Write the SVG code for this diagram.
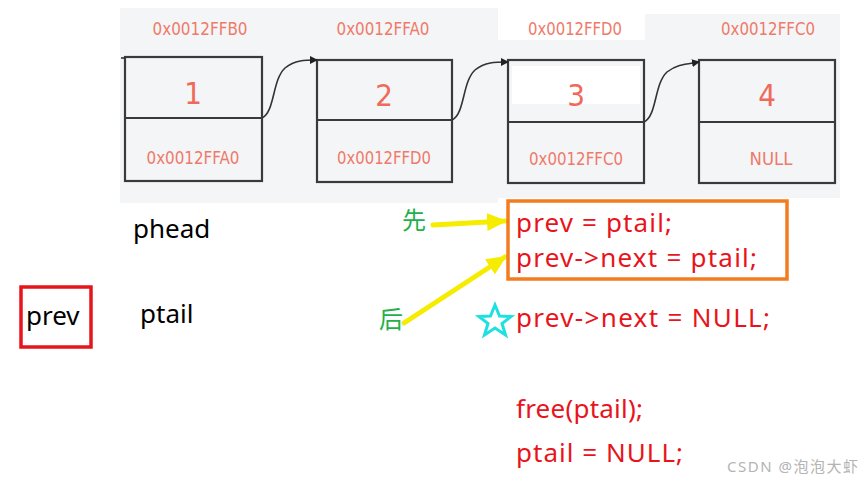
<svg xmlns="http://www.w3.org/2000/svg" width="861" height="482" viewBox="0 0 861 482">
<style>
.bg{fill:#f3f5f7}
.box{fill:#f3f5f7;stroke:#3a3a3a;stroke-width:2.2}
.addr{font-family:"DejaVu Sans Condensed","DejaVu Sans",sans-serif;font-size:17px;fill:#ef7a6a;text-anchor:middle}
.num{font-family:"DejaVu Sans Condensed","DejaVu Sans",sans-serif;font-size:31px;fill:#ef6a5a;text-anchor:middle}
.link{fill:none;stroke:#333;stroke-width:1.6}
.lbl{font-family:"Noto Sans","Open Sans",sans-serif;font-size:26px;fill:#000}
.code{font-family:"Noto Sans","Open Sans",sans-serif;font-size:26px;fill:#e8141c}
.cjk{font-family:"Noto Sans CJK SC",sans-serif;font-size:24px;fill:#22b04a}
.yarrow{stroke:#f5ec00;stroke-width:5;fill:none;stroke-linecap:round}
</style>
<defs>
<marker id="ah" markerWidth="8" markerHeight="8" refX="7" refY="4" orient="auto" markerUnits="userSpaceOnUse">
<path d="M0,0 L8,4 L0,8 Z" fill="#222"/>
</marker>
<marker id="yh" markerWidth="20" markerHeight="18" refX="18" refY="9" orient="auto" markerUnits="userSpaceOnUse">
<path d="M0,0 L20,9 L0,18 Z" fill="#f5ec00"/>
</marker>
</defs>
<rect width="861" height="482" fill="#fff"/>
<rect class="bg" x="120" y="8" width="378" height="195"/>
<rect class="bg" x="498" y="40" width="342" height="158"/>
<rect class="bg" x="645" y="14" width="195" height="30"/>

<g id="node1">
<text class="addr" x="200" y="35" textLength="95" lengthAdjust="spacingAndGlyphs">0x0012FFB0</text>
<rect class="box" x="125" y="57" width="137" height="124"/>
<line x1="125" y1="118" x2="262" y2="118" stroke="#3a3a3a" stroke-width="2.2"/>
<text class="num" x="193" y="104">1</text>
<text class="addr" x="193" y="164" textLength="93" lengthAdjust="spacingAndGlyphs">0x0012FFA0</text>
</g>
<g id="node2">
<text class="addr" x="383" y="35" textLength="93" lengthAdjust="spacingAndGlyphs">0x0012FFA0</text>
<rect class="box" x="317" y="60" width="135" height="122"/>
<line x1="317" y1="120" x2="452" y2="120" stroke="#3a3a3a" stroke-width="2.2"/>
<text class="num" x="384" y="106">2</text>
<text class="addr" x="384" y="164" textLength="94" lengthAdjust="spacingAndGlyphs">0x0012FFD0</text>
</g>
<g id="node3">
<text class="addr" x="575" y="35" textLength="94" lengthAdjust="spacingAndGlyphs">0x0012FFD0</text>
<rect class="box" x="508" y="60" width="136" height="123"/>
<rect x="512" y="66" width="128" height="38" fill="#fff"/>
<line x1="508" y1="122" x2="644" y2="122" stroke="#3a3a3a" stroke-width="2.2"/>
<text class="num" x="576" y="106">3</text>
<text class="addr" x="576" y="165" textLength="94" lengthAdjust="spacingAndGlyphs">0x0012FFC0</text>
</g>
<g id="node4">
<text class="addr" x="768" y="35" textLength="94" lengthAdjust="spacingAndGlyphs">0x0012FFC0</text>
<rect class="box" x="699" y="60" width="136" height="123"/>
<line x1="699" y1="122" x2="835" y2="122" stroke="#3a3a3a" stroke-width="2.2"/>
<text class="num" x="767" y="106">4</text>
<text class="addr" x="771" y="165" textLength="43" lengthAdjust="spacingAndGlyphs">NULL</text>
</g>

<g id="connectors">
<line x1="121" y1="58" x2="125" y2="58" stroke="#333" stroke-width="1.6"/>
<path class="link" d="M262,118 C275,112 272,80 285,68 C295,60 305,60 317,60" marker-end="url(#ah)"/>
<path class="link" d="M452,120 C465,114 462,82 475,70 C485,62 495,62 508,62" marker-end="url(#ah)"/>
<path class="link" d="M644,122 C657,116 654,84 667,72 C677,64 687,64 699,62" marker-end="url(#ah)"/>
<line class="yarrow" x1="433" y1="225" x2="505" y2="221" marker-end="url(#yh)"/>
<line class="yarrow" x1="404" y1="323" x2="505" y2="257" marker-end="url(#yh)"/>
</g>

<g id="phead"><text class="lbl" x="133" y="238">phead</text></g>
<g id="ptail"><text class="lbl" x="140" y="323">ptail</text></g>
<g id="prev">
<rect x="21" y="287" width="70" height="60" fill="none" stroke="#e8141c" stroke-width="3.5"/>
<text class="lbl" x="26" y="325">prev</text>
</g>
<g id="first"><text class="cjk" x="402" y="229">先</text></g>
<g id="later"><text class="cjk" x="379" y="328">后</text></g>

<g id="codebox">
<rect x="508" y="201" width="279" height="78" fill="none" stroke="#f47c20" stroke-width="3.5"/>
<text class="code" x="516" y="232" textLength="156" lengthAdjust="spacing">prev = ptail;</text>
<text class="code" x="516" y="267" textLength="241" lengthAdjust="spacing">prev-&gt;next = ptail;</text>
</g>
<g id="star">
<path d="M495,305 L499.5,316 L511,316.5 L502,323.5 L505.5,335 L495,328 L484.5,335 L488,323.5 L479,316.5 L490.5,316 Z" fill="none" stroke="#1ee0e0" stroke-width="3" stroke-linejoin="miter"/>
</g>
<g id="code2">
<text class="code" x="516" y="327" textLength="254" lengthAdjust="spacing">prev-&gt;next = NULL;</text>
<text class="code" x="516" y="418" textLength="127" lengthAdjust="spacing">free(ptail);</text>
<text class="code" x="516" y="462" textLength="167" lengthAdjust="spacing">ptail = NULL;</text>
</g>
<text x="727" y="472" font-family="'Noto Sans','Noto Sans CJK SC',sans-serif" font-size="15" fill="#b4b4b4" textLength="131" lengthAdjust="spacing">CSDN @泡泡大虾</text>
</svg>
